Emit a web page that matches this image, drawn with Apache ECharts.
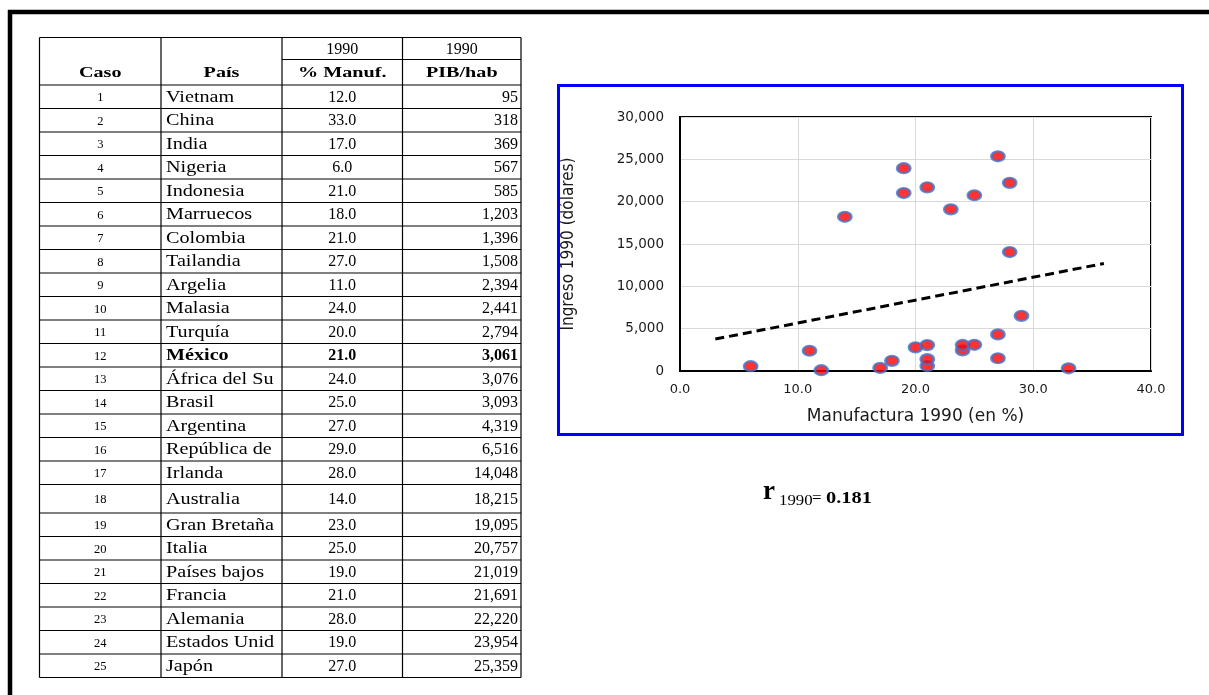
<!DOCTYPE html>
<html>
<head>
<meta charset="utf-8">
<script src="https://cdn.jsdelivr.net/npm/echarts@6/dist/echarts.min.js"></script>
<style>
  html, body { margin: 0; padding: 0; background: #fff; }
  #main { width: 1209px; height: 695px; }
</style>
</head>
<body>
<div id="main"></div>
<script>
// Country data, 1990: share of manufacturing in GDP (%) and GDP per capita (USD)
const casos = [1, 2, 3, 4, 5, 6, 7, 8, 9, 10, 11, 12, 13, 14, 15, 16, 17, 18, 19, 20, 21, 22, 23, 24, 25];
const paises = ['Vietnam', 'China', 'India', 'Nigeria', 'Indonesia', 'Marruecos', 'Colombia', 'Tailandia',
  'Argelia', 'Malasia', 'Turquía', 'México', 'África del Sur', 'Brasil', 'Argentina', 'República de Corea',
  'Irlanda', 'Australia', 'Gran Bretaña', 'Italia', 'Países bajos', 'Francia', 'Alemania', 'Estados Unidos', 'Japón'];
const manuf1990 = [12.0, 33.0, 17.0, 6.0, 21.0, 18.0, 21.0, 27.0, 11.0, 24.0, 20.0, 21.0, 24.0, 25.0, 27.0,
  29.0, 28.0, 14.0, 23.0, 25.0, 19.0, 21.0, 28.0, 19.0, 27.0];
const pib1990 = [95, 318, 369, 567, 585, 1203, 1396, 1508, 2394, 2441, 2794, 3061, 3076, 3093, 4319,
  6516, 14048, 18215, 19095, 20757, 21019, 21691, 22220, 23954, 25359];
const destacado = 'México';
const xTicks = { min: 0, max: 40, step: 10 };
const yTicks = { min: 0, max: 30000, step: 5000 };

// Least-squares fit and correlation
const n = manuf1990.length;
const mx = manuf1990.reduce((a, b) => a + b, 0) / n;
const my = pib1990.reduce((a, b) => a + b, 0) / n;
let sxx = 0, syy = 0, sxy = 0;
for (let i = 0; i < n; i++) {
  const dx = manuf1990[i] - mx, dy = pib1990[i] - my;
  sxx += dx * dx; syy += dy * dy; sxy += dx * dy;
}
const slope = sxy / sxx;
const intercept = my - slope * mx;
const r = sxy / Math.sqrt(sxx * syy);
// trend line extended 3 units before and after the data range
const tx0 = Math.min(...manuf1990) - 3, tx1 = Math.max(...manuf1990) + 3;
const trend = [[tx0, intercept + slope * tx0], [tx1, intercept + slope * tx1]];

const fmt = v => v.toLocaleString('en-US');

// ---- table drawn as graphic elements ----
const SERIF = '"Liberation Serif", "Times New Roman", serif';
const colX = [39.5, 161, 282, 402.5, 521];
const tTop = 37.5, tMid = 59.5, tHead = 85;
const rowH = casos.map((c, i) => (i === 17 ? 28.5 : 23.5));
const rowTop = [];
{ let y = tHead; rowH.forEach(h => { rowTop.push(y); y += h; }); rowTop.push(y); }
const tBottom = rowTop[rowTop.length - 1];
const WIDE = 1.26; // horizontal stretch of the word cells

const g = [];
const line = (x1, y1, x2, y2, w) => g.push({
  type: 'line', silent: true,
  shape: { x1, y1, x2, y2 }, style: { stroke: '#000', lineWidth: w || 1.2 }
});
const text = (x, y, s, opt, sx) => g.push({
  type: 'text', silent: true, x, y, scaleX: sx || 1,
  style: Object.assign({
    text: s, fill: '#000', fontFamily: SERIF, fontSize: 16,
    align: 'left', verticalAlign: 'middle'
  }, opt || {})
});

// outer frame
line(8, 12, 1209, 12, 4.5);
line(10, 10, 10, 695, 4.5);

// table grid
line(colX[0], tTop, colX[4], tTop);
line(colX[2], tMid, colX[4], tMid);
rowTop.forEach(y => line(colX[0], y, colX[4], y));
colX.forEach(x => line(x, tTop, x, tBottom));

// header
text((colX[2] + colX[3]) / 2, (tTop + tMid) / 2 + 1, '1990', { align: 'center', fontSize: 16 });
text((colX[3] + colX[4]) / 2, (tTop + tMid) / 2 + 1, '1990', { align: 'center', fontSize: 16 });
const hy = (tMid + tHead) / 2 + 1;
const hb = { align: 'center', fontSize: 15.5, fontWeight: 'bold' };
text((colX[0] + colX[1]) / 2, hy, 'Caso', hb, 1.3);
text((colX[1] + colX[2]) / 2, hy, 'País', hb, 1.3);
text((colX[2] + colX[3]) / 2, hy, '% Manuf.', hb, 1.3);
text((colX[3] + colX[4]) / 2, hy, 'PIB/hab', hb, 1.3);

// body: country names are cut at the cell edge
casos.forEach((c, i) => {
  const y = (rowTop[i] + rowTop[i + 1]) / 2 + 1;
  const bold = paises[i] === destacado ? 'bold' : 'normal';
  text((colX[0] + colX[1]) / 2, y, String(c), { align: 'center', fontSize: 12.5 });
  text(colX[1] + 5, y, paises[i], {
    fontWeight: bold, width: (colX[2] - colX[1] - 8) / WIDE, overflow: 'truncate', ellipsis: ''
  }, WIDE);
  text((colX[2] + colX[3]) / 2, y, manuf1990[i].toFixed(1), { align: 'center', fontWeight: bold });
  text(colX[4] - 3, y, fmt(pib1990[i]), { align: 'right', fontWeight: bold });
});

// chart frame
g.push({
  type: 'rect', silent: true,
  shape: { x: 558.5, y: 85.5, width: 624, height: 349 },
  style: { fill: 'none', stroke: '#0000ff', lineWidth: 3 }
});

// correlation label
text(763, 506, 'r', { fontSize: 27, fontWeight: 'bold', verticalAlign: 'bottom' });
text(779, 508, '1990', { fontSize: 14, verticalAlign: 'bottom' }, 1.2);
text(812, 507, '=', { fontSize: 17, verticalAlign: 'bottom' });
text(826, 507, r.toFixed(3), { fontSize: 17, fontWeight: 'bold', verticalAlign: 'bottom' }, 1.2);

const SANS = '"DejaVu Sans", sans-serif';
const chart = echarts.init(document.getElementById('main'), null, { renderer: 'canvas' });
chart.setOption({
  animation: false,
  backgroundColor: '#fff',
  grid: {
    left: 680, top: 117, width: 471, height: 254,
    show: true, borderColor: '#000', borderWidth: 2, backgroundColor: 'transparent'
  },
  xAxis: {
    type: 'value', min: xTicks.min, max: xTicks.max, interval: xTicks.step,
    name: 'Manufactura 1990 (en %)', nameLocation: 'middle', nameGap: 37,
    nameTextStyle: { fontFamily: SANS, fontSize: 17, color: '#1a1a1a' },
    axisLine: { show: true, lineStyle: { color: '#000', width: 2 } },
    axisTick: { show: false },
    axisLabel: { formatter: v => v.toFixed(1), fontFamily: SANS, fontSize: 13, color: '#1a1a1a', margin: 12 },
    splitLine: { show: true, lineStyle: { color: '#d9d9d9', width: 1 } }
  },
  yAxis: {
    type: 'value', min: yTicks.min, max: yTicks.max, interval: yTicks.step,
    name: 'Ingreso 1990 (dólares)', nameLocation: 'middle', nameGap: 103, nameRotate: 90,
    nameTextStyle: { fontFamily: '"DejaVu Sans Condensed", ' + SANS, fontSize: 17, color: '#1a1a1a' },
    axisLine: { show: true, lineStyle: { color: '#000', width: 2 } },
    axisTick: { show: false },
    axisLabel: { formatter: v => fmt(v), fontFamily: SANS, fontSize: 13.5, color: '#1a1a1a', margin: 16 },
    splitLine: { show: true, lineStyle: { color: '#d9d9d9', width: 1 } }
  },
  graphic: { elements: g },
  series: [
    {
      type: 'line', data: trend, symbol: 'none', silent: true,
      lineStyle: { color: '#000', width: 3, type: [9, 5] }, z: 3
    },
    {
      type: 'scatter', data: manuf1990.map((x, i) => [x, pib1990[i]]),
      symbol: 'circle', symbolSize: [13, 10],
      itemStyle: { color: '#ff0000', borderColor: '#4472c4', borderWidth: 2.5 }, z: 4
    }
  ]
});
</script>
</body>
</html>
